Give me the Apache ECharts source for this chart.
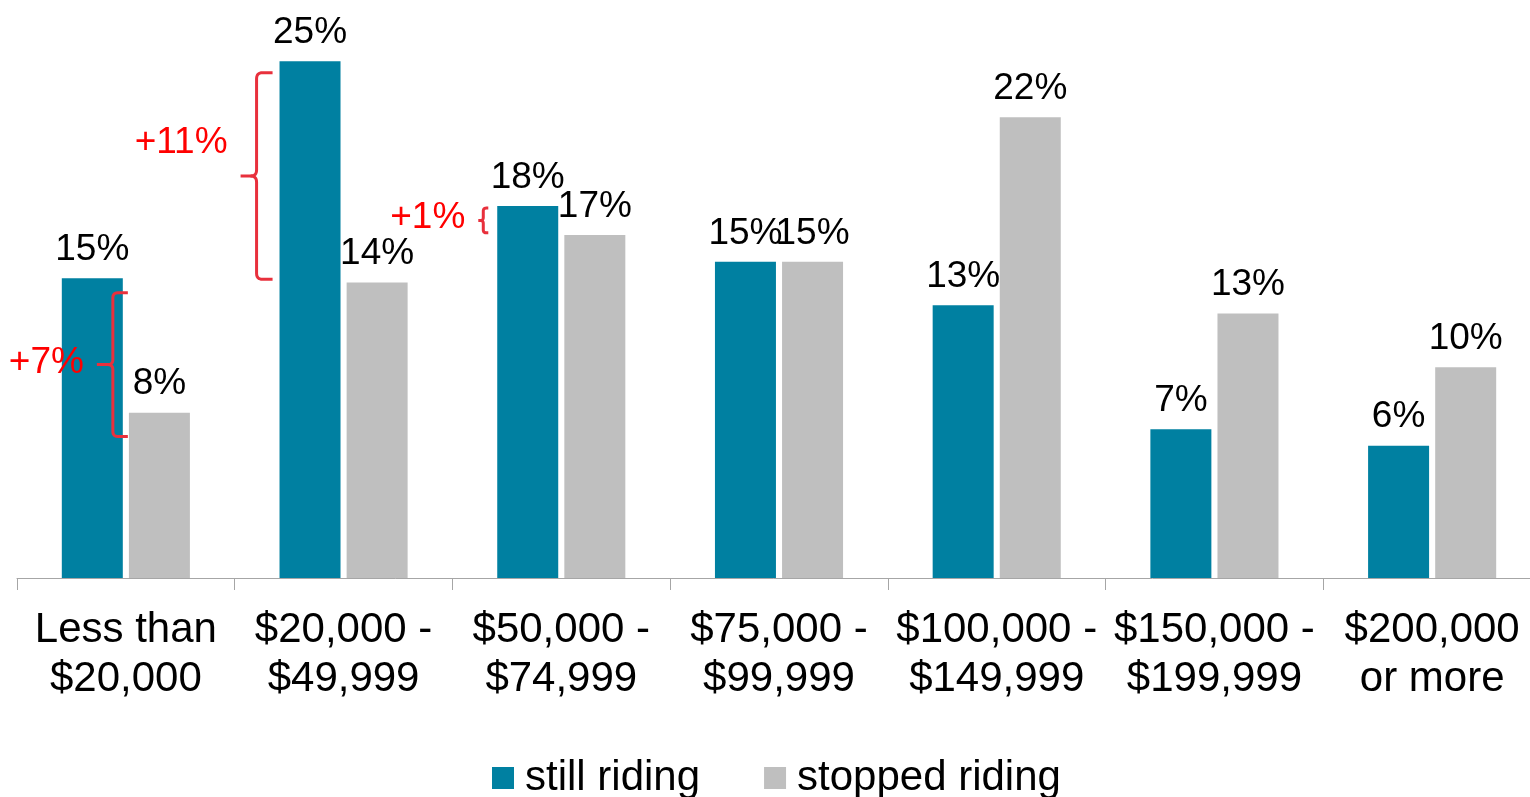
<!DOCTYPE html>
<html>
<head>
<meta charset="utf-8">
<script src="https://cdn.jsdelivr.net/npm/echarts@6/dist/echarts.min.js"></script>
<style>
html,body{margin:0;padding:0;background:#fff;}
#chart{width:1530px;height:797px;}
</style>
</head>
<body>
<div id="chart"></div>
<script>
const categories = ['Less than\n$20,000', '$20,000 -\n$49,999', '$50,000 -\n$74,999', '$75,000 -\n$99,999', '$100,000 -\n$149,999', '$150,000 -\n$199,999', '$200,000\nor more'];
const seriesNames = ['still riding', 'stopped riding'];
const stillRiding = [14.5, 25.0, 18.0, 15.3, 13.2, 7.2, 6.4];
const stoppedRiding = [8.0, 14.3, 16.6, 15.3, 22.3, 12.8, 10.2];
const stillLabels = ['15%', '25%', '18%', '15%', '13%', '7%', '6%'];
const stoppedLabels = ['8%', '14%', '17%', '15%', '22%', '13%', '10%'];
// annotation braces: category index, top value, bottom value, text
const braceCats = [0, 1, 2];
const braceTop = [13.8, 24.45, 17.9];
const braceBottom = [6.85, 14.45, 16.7];
const braceTexts = ['+7%', '+11%', '+1%'];

const FONT = "'Liberation Sans', Arial, sans-serif";
const chart = echarts.init(document.getElementById('chart'));

chart.setOption({
  animation: false,
  backgroundColor: '#ffffff',
  textStyle: { fontFamily: FONT },
  grid: { left: 17, width: 1524, top: 20, bottom: 219, containLabel: false, outerBoundsMode: 'none' },
  legend: {
    data: seriesNames,
    left: 492, top: 757, padding: 0,
    icon: 'rect', itemWidth: 22, itemHeight: 22, itemGap: 64,
    textStyle: { fontSize: 42, color: '#000', fontFamily: FONT, padding: [0, 0, 0, 6] }
  },
  xAxis: {
    type: 'category',
    data: categories,
    axisLine: { lineStyle: { color: '#A6A6A6', width: 1 } },
    axisTick: { show: true, length: 12, lineStyle: { color: '#A6A6A6' } },
    axisLabel: { interval: 0, fontSize: 42, lineHeight: 49, color: '#000', margin: 28, fontFamily: FONT }
  },
  yAxis: { type: 'value', min: 0, max: 27, show: false, splitLine: { show: false } },
  series: [
    {
      name: seriesNames[0], type: 'bar', data: stillRiding, barWidth: 61, barGap: '10%',
      itemStyle: { color: '#0080A1' },
      label: { show: true, position: 'top', distance: 10, fontSize: 37, color: '#000', fontFamily: FONT,
        formatter: p => stillLabels[p.dataIndex] }
    },
    {
      name: seriesNames[1], type: 'bar', data: stoppedRiding, barWidth: 61, barGap: '10%',
      itemStyle: { color: '#BFBFBF' },
      label: { show: true, position: 'top', distance: 10, fontSize: 37, color: '#000', fontFamily: FONT,
        formatter: p => stoppedLabels[p.dataIndex] }
    }
  ]
});

// layout of the braces (pixel offsets relative to the category centre)
const braceLayout = [
  { dx: -13, arm: 15, tip: 16, r: 5, textDy: -2 },
  { dx: -87, arm: 16, tip: 16, r: 6, textDy: -33 },
  { dx: -78, arm: 5, tip: 5, r: 3, textDy: -3 }
];
function quad(p0, c, p1, n) {
  const pts = [];
  for (let k = 1; k <= n; k++) {
    const s = k / n, u = 1 - s;
    pts.push([u * u * p0[0] + 2 * u * s * c[0] + s * s * p1[0], u * u * p0[1] + 2 * u * s * c[1] + s * s * p1[1]]);
  }
  return pts;
}
const graphics = [];
braceCats.forEach((c, i) => {
  const L = braceLayout[i];
  const pTop = chart.convertToPixel({ gridIndex: 0 }, [c, braceTop[i]]);
  const pBot = chart.convertToPixel({ gridIndex: 0 }, [c, braceBottom[i]]);
  const x0 = pTop[0] + L.dx, y1 = pTop[1], y2 = pBot[1], ym = (y1 + y2) / 2;
  const r = L.r, a = L.arm, t = L.tip;
  const top = [[x0 + a, y1], [x0 + r, y1]]
    .concat(quad([x0 + r, y1], [x0, y1], [x0, y1 + r], 6))
    .concat([[x0, ym - r]])
    .concat(quad([x0, ym - r], [x0, ym], [x0 - r, ym], 6))
    .concat([[x0 - t, ym]]);
  const bot = [[x0 - r, ym]]
    .concat(quad([x0 - r, ym], [x0, ym], [x0, ym + r], 6))
    .concat([[x0, y2 - r]])
    .concat(quad([x0, y2 - r], [x0, y2], [x0 + r, y2], 6))
    .concat([[x0 + a, y2]]);
  [top, bot].forEach(pts => graphics.push({
    type: 'polyline', shape: { points: pts },
    style: { fill: null, stroke: '#E8303C', lineWidth: 3, lineJoin: 'round' }, z: 10
  }));
  graphics.push({
    type: 'text', x: x0 - t - 13, y: ym + L.textDy,
    style: { text: braceTexts[i], fill: '#FF0000', fontSize: 37, fontFamily: FONT, align: 'right', verticalAlign: 'middle' },
    z: 10
  });
});
chart.setOption({ graphic: graphics });
</script>
</body>
</html>
